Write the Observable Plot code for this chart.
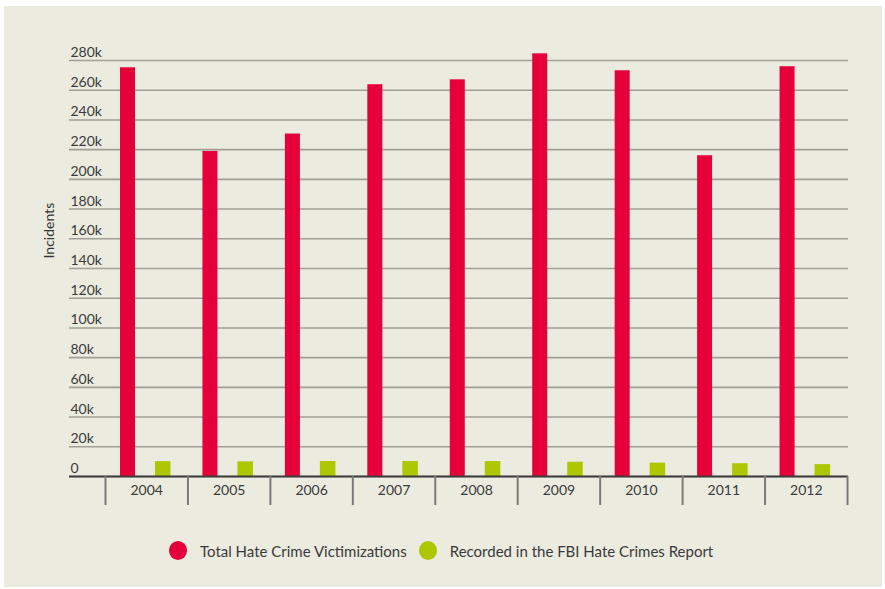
<!DOCTYPE html>
<html>
<head>
<meta charset="utf-8">
<script src="https://cdn.jsdelivr.net/npm/d3@7"></script>
<script src="https://cdn.jsdelivr.net/npm/@observablehq/plot@0.6"></script>
<style>
  html, body { margin: 0; padding: 0; background: #ffffff; width: 885px; height: 589px; overflow: hidden; }
  #panel { position: absolute; left: 4px; top: 6px; width: 878px; height: 581px; background: #ecebe0; }
  #chart { position: absolute; left: 0; top: 0; }
  #chart svg { overflow: visible; }
  #legend { position: absolute; left: 169px; top: 541px; display: flex; align-items: center;
            font-family: Lato, "Open Sans", sans-serif; font-size: 15px; color: #3a3a3a; }
  #legend .sw { width: 18px; height: 19px; border-radius: 50%; display: inline-block; }
  #legend .item { display: flex; align-items: center; }
  #legend .lab { margin-left: 13px; margin-right: 12px; }
</style>
</head>
<body>
<div id="panel"></div>
<div id="chart"></div>
<div id="legend"></div>
<script>
const years = ["2004", "2005", "2006", "2007", "2008", "2009", "2010", "2011", "2012"];
const totalVictimizations = [275100, 218800, 230500, 263700, 267000, 284500, 273100, 215900, 275800];
const fbiRecorded = [10000, 9900, 10100, 10100, 10100, 9600, 9000, 8600, 8000];
const yTicks = [0, 20000, 40000, 60000, 80000, 100000, 120000, 140000, 160000, 180000, 200000, 220000, 240000, 260000, 280000];
const yTickLabels = ["0", "20k", "40k", "60k", "80k", "100k", "120k", "140k", "160k", "180k", "200k", "220k", "240k", "260k", "280k"];
const seriesNames = ["Total Hate Crime Victimizations", "Recorded in the FBI Hate Crimes Report"];
const seriesColors = ["#e6003a", "#adc700"];

const rows = years.map((y, i) => ({year: y, total: totalVictimizations[i], fbi: fbiRecorded[i]}));

const W = 885, H = 520, mL = 69, mR = 37, insL = 36, insR = 1;
const step = (W - mL - mR - insL - insR) / years.length;
const half = step / 2;
const font = "Lato, 'Open Sans', sans-serif";

const chart = Plot.plot({
  width: W,
  height: H,
  marginLeft: mL,
  marginRight: mR,
  marginTop: 60,
  marginBottom: 44,
  style: {background: "transparent", fontFamily: font, fontSize: "14px", color: "#333"},
  x: {domain: years, type: "band", padding: 0, round: false, insetLeft: insL, insetRight: insR, label: null},
  y: {domain: [0, 280000], label: null},
  marks: [
    Plot.gridY(yTicks, {stroke: "#9f9f97", strokeOpacity: 1, strokeWidth: 1.6}),
    Plot.axisY(yTicks, {
      tickSize: 0, tickPadding: 0, dx: 1, dy: -8, textAnchor: "start",
      tickFormat: (d) => yTickLabels[yTicks.indexOf(d)], fill: "#3a3a3a", fontSize: 14, label: null
    }),
    Plot.barY(rows, {x: "year", y: "total", fill: seriesColors[0], insetLeft: 15, insetRight: step - 30}),
    Plot.barY(rows, {x: "year", y: "fbi", fill: seriesColors[1], insetLeft: 50, insetRight: step - 65.5}),
    Plot.ruleY([0], {stroke: "#3d3d3d", strokeWidth: 2}),
    Plot.axisX(years, {tickSize: 0, tickPadding: 9, fill: "#3a3a3a", fontSize: 14, label: null}),
    Plot.axisX(years, {tickSize: 29, stroke: "#7a7a7a", strokeWidth: 2, tickFormat: () => "", dx: -half, label: null}),
    Plot.axisX(years.slice(-1), {tickSize: 29, stroke: "#7a7a7a", strokeWidth: 2, tickFormat: () => "", dx: half, label: null}),
    Plot.text(["Incidents"], {frameAnchor: "left", rotate: -90, dx: -20, dy: -10, fontSize: 14, fill: "#333"})
  ]
});
document.getElementById("chart").appendChild(chart);

const legend = document.getElementById("legend");
seriesNames.forEach((name, i) => {
  const item = document.createElement("div");
  item.className = "item";
  const sw = document.createElement("span");
  sw.className = "sw";
  sw.style.background = seriesColors[i];
  const lab = document.createElement("span");
  lab.className = "lab";
  lab.textContent = name;
  item.appendChild(sw);
  item.appendChild(lab);
  legend.appendChild(item);
});
</script>
</body>
</html>
